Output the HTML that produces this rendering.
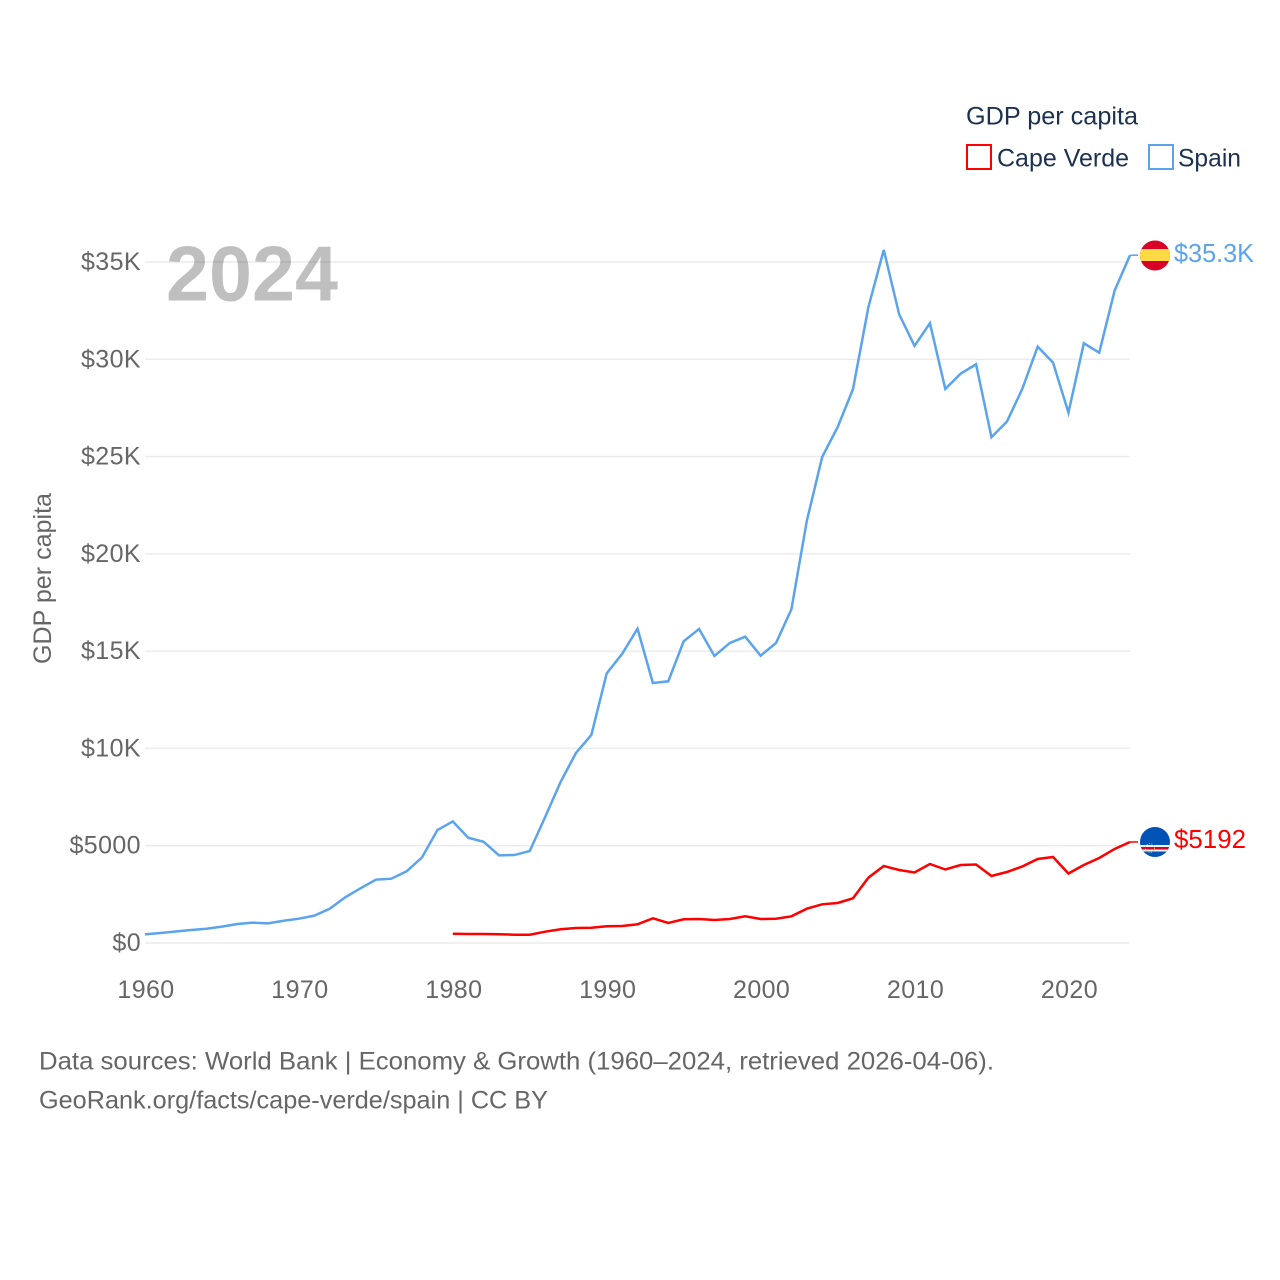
<!DOCTYPE html>
<html lang="en">
<head>
<meta charset="utf-8">
<title>GDP per capita: Cape Verde vs Spain</title>
<style>
html,body{margin:0;padding:0;background:#fff;width:1280px;height:1280px;overflow:hidden}
svg{display:block}
text{font-family:"Liberation Sans",Arial,sans-serif;font-size:25px}
.tick{fill:#666;letter-spacing:.4px}
.legend{fill:#1c3150}
.foot{fill:#666}
</style>
</head>
<body>
<svg id="chart" xmlns="http://www.w3.org/2000/svg" width="1280" height="1280" viewBox="0 0 1280 1280">
  <defs>
    <clipPath id="clip-es"><circle cx="1155" cy="255.5" r="15"/></clipPath>
    <clipPath id="clip-cv"><circle cx="1155" cy="842" r="15"/></clipPath>
  </defs>
  <rect x="0" y="0" width="1280" height="1280" fill="#fff"/>
  <g id="grid"></g>
  <g id="yticks"></g>
  <g id="xticks"></g>
  <text x="166" y="300.5" fill="#000" fill-opacity="0.25" font-weight="700" style="font-size:78px" textLength="172" lengthAdjust="spacingAndGlyphs">2024</text>
  <text transform="translate(51,664) rotate(-90)" fill="#666" textLength="171" lengthAdjust="spacingAndGlyphs">GDP per capita</text>
  <g id="series"></g>

  <g clip-path="url(#clip-es)">
    <rect x="1140" y="240" width="30" height="31" fill="#d80027"/>
    <rect x="1140" y="249" width="30" height="12" fill="#ffda44"/>
  </g>
  <g clip-path="url(#clip-cv)">
    <rect x="1140" y="827" width="30" height="30" fill="#0052b4"/>
    <rect x="1140" y="845" width="30" height="6.5" fill="#f2f2f2"/>
    <rect x="1140" y="847" width="30" height="2.5" fill="#d80027"/>
    <circle cx="1150" cy="848" r="4.5" fill="none" stroke="#d9b84a" stroke-width="1" stroke-dasharray="1 1.5"/>
  </g>
  <text id="label-spain" x="1174" y="262" fill="#5ba4ec" style="font-size:26px" textLength="80" lengthAdjust="spacingAndGlyphs">$35.3K</text>
  <text id="label-cv" x="1174" y="848" fill="#ff0000" style="font-size:26px" textLength="72" lengthAdjust="spacingAndGlyphs">$5192</text>

  <text class="legend" x="966" y="124.5" textLength="172" lengthAdjust="spacingAndGlyphs">GDP per capita</text>
  <g>
    <rect x="967" y="145" width="24" height="24" fill="#fff" stroke="#ff0000" stroke-width="2"/>
    <text class="legend" x="997" y="166.5" textLength="132" lengthAdjust="spacingAndGlyphs">Cape Verde</text>
  </g>
  <g>
    <rect x="1149" y="145" width="24" height="24" fill="#fff" stroke="#5ba4ec" stroke-width="2"/>
    <text class="legend" x="1178" y="166.5" textLength="63" lengthAdjust="spacingAndGlyphs">Spain</text>
  </g>

  <text class="foot" x="39" y="1069.5" textLength="955" lengthAdjust="spacingAndGlyphs">Data sources: World Bank | Economy &amp; Growth (1960–2024, retrieved 2026-04-06).</text>
  <text class="foot" x="39" y="1108.5" textLength="509" lengthAdjust="spacingAndGlyphs">GeoRank.org/facts/cape-verde/spain | CC BY</text>
</svg>
<script>
const yTickValues = [0, 5000, 10000, 15000, 20000, 25000, 30000, 35000];
const yTickLabels = ["$0", "$5000", "$10K", "$15K", "$20K", "$25K", "$30K", "$35K"];
const xTickYears = [1960, 1970, 1980, 1990, 2000, 2010, 2020];
const xTickLabels = ["1960", "1970", "1980", "1990", "2000", "2010", "2020"];

const spainStartYear = 1960;
const spainValues = [
  445, 515, 590, 670, 735, 840, 975, 1045, 1010, 1145,
  1250, 1405, 1760, 2345, 2810, 3255, 3305, 3685, 4400, 5805,
  6250, 5410, 5205, 4505, 4520, 4730, 6476, 8275, 9766, 10690,
  13860, 14855, 16155, 13364, 13450, 15507, 16140, 14752, 15420, 15744,
  14767, 15420, 17152, 21690, 24980, 26507, 28460, 32675, 35620, 32315,
  30686, 31853, 28476, 29262, 29745, 25993, 26795, 28476, 30650, 29827,
  27257, 30824, 30341, 33528, 35348
];

const capeVerdeStartYear = 1980;
const capeVerdeValues = [
  478, 463, 463, 447, 427, 427, 581, 704, 771, 786,
  858, 874, 961, 1270, 1028, 1218, 1234, 1182, 1234, 1372,
  1234, 1249, 1372, 1763, 1989, 2056, 2298, 3356, 3958, 3752,
  3624, 4061, 3778, 4009, 4035, 3444, 3649, 3932, 4318, 4420,
  3572, 4009, 4369, 4832, 5192
];

const NS = "http://www.w3.org/2000/svg";
function xScale(year) { return 145 + (year - 1960) * (1130 - 145) / 64; }
function yScale(value) { return 943 - value * 681 / 35000; }

const gridGroup = document.getElementById("grid");
const yGroup = document.getElementById("yticks");
yTickValues.forEach(function (v, i) {
  const line = document.createElementNS(NS, "line");
  
  
  line.setAttribute("x1", 145);
  line.setAttribute("x2", 1130);
  line.setAttribute("y1", yScale(v));
  line.setAttribute("y2", yScale(v));
  line.setAttribute("stroke", "#ececec");
  line.setAttribute("stroke-width", "1.5");
  gridGroup.appendChild(line);

  const t = document.createElementNS(NS, "text");
  
  
  t.setAttribute("class", "tick");
  t.setAttribute("x", 141);
  t.setAttribute("y", yScale(v) + 8);
  t.setAttribute("text-anchor", "end");
  t.textContent = yTickLabels[i];
  yGroup.appendChild(t);
});

const xGroup = document.getElementById("xticks");
xTickYears.forEach(function (y, i) {
  const t = document.createElementNS(NS, "text");
  
  
  t.setAttribute("class", "tick");
  t.setAttribute("x", xScale(y) + 1);
  t.setAttribute("y", 998);
  t.setAttribute("text-anchor", "middle");
  t.textContent = xTickLabels[i];
  xGroup.appendChild(t);
});

function linePoints(startYear, values) {
  return values.map(function (v, i) {
    return xScale(startYear + i).toFixed(2) + "," + yScale(v).toFixed(2);
  }).join(" ");
}

const seriesGroup = document.getElementById("series");

const spainLine = document.createElementNS(NS, "polyline");


spainLine.setAttribute("points", linePoints(spainStartYear, spainValues));
spainLine.setAttribute("fill", "none");
spainLine.setAttribute("stroke", "#5ba4ec");
spainLine.setAttribute("stroke-width", "2.5");
spainLine.setAttribute("stroke-linejoin", "miter");
seriesGroup.appendChild(spainLine);

const capeLine = document.createElementNS(NS, "polyline");


capeLine.setAttribute("points", linePoints(capeVerdeStartYear, capeVerdeValues));
capeLine.setAttribute("fill", "none");
capeLine.setAttribute("stroke", "#ff0000");
capeLine.setAttribute("stroke-width", "2.5");
seriesGroup.appendChild(capeLine);

function connector(color, lastValue) {
  const c = document.createElementNS(NS, "line");
  c.setAttribute("x1", xScale(2024));
  c.setAttribute("x2", xScale(2024) + 8);
  c.setAttribute("y1", yScale(lastValue));
  c.setAttribute("y2", yScale(lastValue));
  c.setAttribute("stroke", color);
  c.setAttribute("stroke-width", "1.5");
  return c;
}
const spainConnector = connector("#5ba4ec", spainValues[spainValues.length - 1]);


seriesGroup.appendChild(spainConnector);
const capeConnector = connector("#ff0000", capeVerdeValues[capeVerdeValues.length - 1]);


seriesGroup.appendChild(capeConnector);
</script>
</body>
</html>
